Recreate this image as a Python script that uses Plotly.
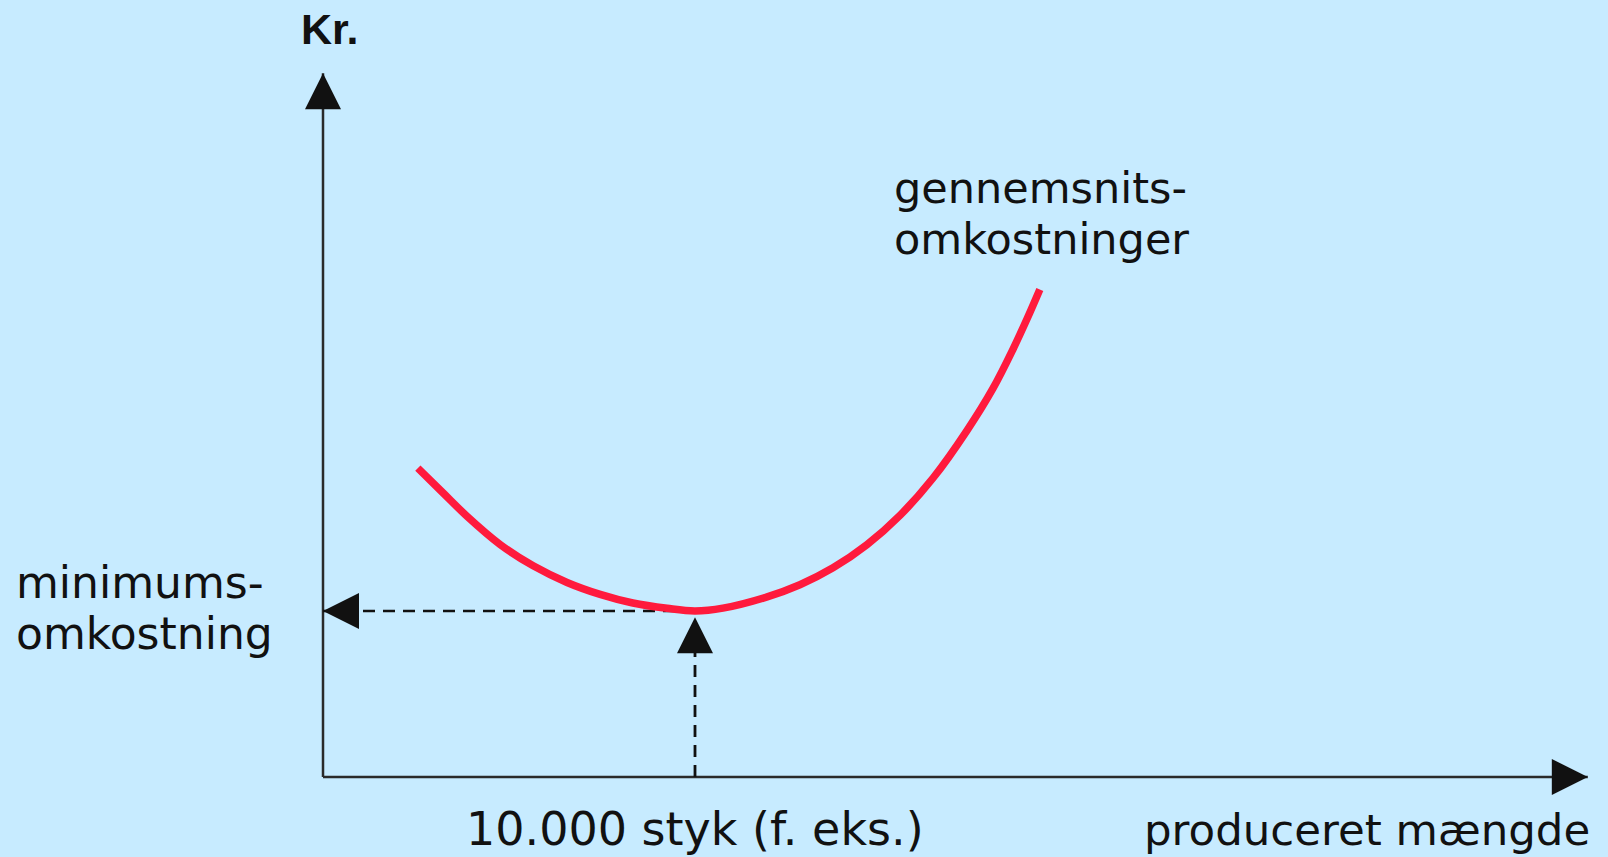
import plotly.graph_objects as go

# ---------------- data ----------------
# produced quantity (thousand units) and average cost (kr.) along the red curve
quantity = [2.55, 3.23, 3.87, 4.76, 5.65, 6.56, 7.45, 8.33, 9.25, 10.0, 10.75,
            11.94, 12.82, 13.71, 14.62, 15.51, 16.40, 17.31, 18.01, 18.55, 18.93, 19.27]
avg_cost = [18.61, 17.11, 15.71, 14.01, 12.72, 11.72, 11.00, 10.48, 10.16, 10.0, 10.17,
            10.85, 11.58, 12.60, 13.99, 15.76, 18.01, 20.87, 23.41, 25.78, 27.62, 29.37]

min_quantity = 10.0   # 10.000 styk
min_cost = 10.0       # minimumsomkostning
axis_x_end = 34.0
axis_y_end = 42.4
arrow_gap = 0.38      # gap between vertical arrow tip and the curve

# ---------------- layout constants ----------------
W, H = 1608, 857
ORIGIN_PX = (323, 777)
PX_PER_X = 37.2
PX_PER_Y = 16.6
BG = "#C7EBFF"
RED = "#FF1A3D"
INK = "#111111"
AXIS = "#2a2a2a"
ARROW_SIZE = 36

x_range = [-ORIGIN_PX[0] / PX_PER_X, (W - ORIGIN_PX[0]) / PX_PER_X]
y_range = [(ORIGIN_PX[1] - H) / PX_PER_Y, ORIGIN_PX[1] / PX_PER_Y]

fig = go.Figure()

# axes with arrowheads
fig.add_trace(go.Scatter(x=[0, 0], y=[0, axis_y_end], mode="lines",
                         line=dict(color=AXIS, width=2.5), hoverinfo="skip"))
fig.add_trace(go.Scatter(x=[0, axis_x_end], y=[0, 0], mode="lines",
                         line=dict(color=AXIS, width=2.5), hoverinfo="skip"))
fig.add_trace(go.Scatter(x=[0], y=[axis_y_end], mode="markers",
                         marker=dict(symbol="arrow-up", size=ARROW_SIZE, color=INK,
                                     line=dict(width=0)), hoverinfo="skip"))
fig.add_trace(go.Scatter(x=[axis_x_end], y=[0], mode="markers",
                         marker=dict(symbol="arrow-right", size=ARROW_SIZE, color=INK,
                                     line=dict(width=0)), hoverinfo="skip"))

# dashed guides to the minimum
fig.add_trace(go.Scatter(x=[min_quantity, 0], y=[min_cost, min_cost], mode="lines",
                         line=dict(color=INK, width=2.5, dash="12px,8px"), hoverinfo="skip"))
fig.add_trace(go.Scatter(x=[min_quantity, min_quantity], y=[0, min_cost - arrow_gap],
                         mode="lines", line=dict(color=INK, width=2.8, dash="12px,8px"),
                         hoverinfo="skip"))
fig.add_trace(go.Scatter(x=[0], y=[min_cost], mode="markers",
                         marker=dict(symbol="arrow-left", size=ARROW_SIZE, color=INK,
                                     line=dict(width=0)), hoverinfo="skip"))
fig.add_trace(go.Scatter(x=[min_quantity], y=[min_cost - arrow_gap], mode="markers",
                         marker=dict(symbol="arrow-up", size=ARROW_SIZE, color=INK,
                                     line=dict(width=0)), hoverinfo="skip"))

# average cost curve
fig.add_trace(go.Scatter(x=quantity, y=avg_cost, mode="lines",
                         line=dict(color=RED, width=7.5, shape="spline", smoothing=1.0),
                         hoverinfo="skip"))


def label(text, left_px, center_px, size, family="DejaVu Sans"):
    fig.add_annotation(text=text, xref="paper", yref="paper",
                       x=left_px / W, y=1 - center_px / H,
                       xanchor="left", yanchor="middle", showarrow=False,
                       font=dict(family=family, size=size, color=INK))


label("<b>Kr.</b>", 299, 29, 43, family="Liberation Sans")
label("minimums-", 14, 582, 44)
label("omkostning", 14, 633, 44)
label("gennemsnits-", 892, 188, 43)
label("omkostninger", 892, 239, 43)
label("10.000 styk (f. eks.)", 464, 829, 46)
label("produceret mængde", 1142, 830, 43.5)

fig.update_layout(
    width=W, height=H, autosize=False,
    margin=dict(l=0, r=0, t=0, b=0),
    paper_bgcolor=BG, plot_bgcolor=BG,
    showlegend=False,
    xaxis=dict(range=x_range, visible=False, fixedrange=True),
    yaxis=dict(range=y_range, visible=False, fixedrange=True),
)

fig.write_html("out.html", config={"displayModeBar": False},
               post_script="document.body.style.margin='0';document.body.style.background='" + BG + "';")
